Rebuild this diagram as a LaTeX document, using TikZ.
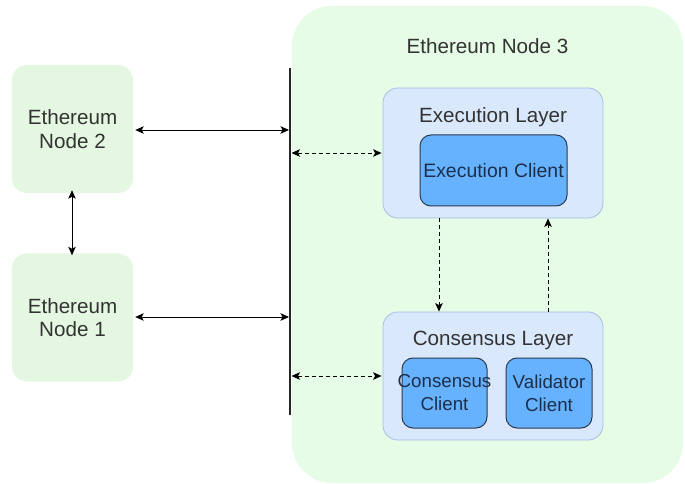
\documentclass[tikz,border=0pt]{standalone}
\usepackage{fontspec}
\setmainfont{Liberation Sans}
\usetikzlibrary{arrows.meta}
\definecolor{nodegreen}{HTML}{E6FCE6}
\definecolor{sidegreen}{HTML}{E4F8E1}
\definecolor{layerfill}{HTML}{DAE8FC}
\definecolor{layerdraw}{HTML}{A4BFE6}
\definecolor{clientfill}{HTML}{66B2FF}
\definecolor{clientdraw}{HTML}{2C3A4E}
\definecolor{txtgray}{HTML}{333333}
\definecolor{txtblue}{HTML}{1C2F4A}
\tikzset{
  lbl/.style={font=\fontsize{20.7}{23.5}\selectfont, text=txtgray, align=center, inner sep=0pt},
  smalllbl/.style={lbl, font=\fontsize{18.8}{23}\selectfont},
  sidebox/.style={lbl, fill=sidegreen, draw=none, rounded corners=15bp, minimum width=121bp, minimum height=128bp},
  bigbox/.style={fill=nodegreen, draw=none, rounded corners=40bp, minimum width=391bp, minimum height=477bp},
  layerbox/.style={fill=layerfill, draw=layerdraw, line width=0.8bp, rounded corners=15bp, minimum width=220bp},
  clientbox/.style={lbl, text=txtblue, fill=clientfill, draw=clientdraw, line width=1bp, rounded corners=11bp},
  link/.style={line width=0.9bp, {Stealth[length=8.5bp,width=7.5bp,inset=2bp]}-{Stealth[length=8.5bp,width=7.5bp,inset=2bp]}},
  dlink/.style={link, dash pattern=on 4bp off 3bp},
  dflow/.style={line width=0.9bp, dash pattern=on 4bp off 3bp, -{Stealth[length=8.5bp,width=7.5bp,inset=2bp]}},
}
\begin{document}
\begin{tikzpicture}[x=1bp,y=-1bp]
\useasboundingbox (0,0) rectangle (685,484);
\node[bigbox] (n3) at (487.5,244.5) {};
\node[lbl] (n3lbl) at (487.5,46) {Ethereum Node 3};
\node[sidebox] (n2) at (72.5,129) {Ethereum\\Node 2};
\node[sidebox] (n1) at (72.5,317.5) {Ethereum\\Node 1};

\node[layerbox, minimum height=130bp] (el) at (493,153) {};
\node[lbl] (ellbl) at (493,117) {Execution Layer};
\node[clientbox, font=\fontsize{19.5}{23}\selectfont, minimum width=147bp, minimum height=71bp] (ec) at (493.5,170.5) {Execution Client};

\node[layerbox, minimum height=128bp] (cl) at (493,376) {};
\node[lbl] (cllbl) at (493,340) {Consensus Layer};
\node[clientbox, minimum width=85bp, minimum height=70bp] (cc) at (444.5,393) {};
\node[smalllbl, text=txtblue] (cctxt) at (444.5,393) {Consensus\\Client};
\node[clientbox, smalllbl, text=txtblue, minimum width=86bp, minimum height=70bp] (vc) at (549,393) {Validator\\Client};

\coordinate (bt) at (290,68);
\coordinate (bb) at (290,415);
\draw[line width=2.2bp, color=black!85] (bt) -- (bb);

\coordinate (b2) at (289,130);
\coordinate (b1) at (289,317);
\coordinate (be) at (291.5,153);
\coordinate (bc) at (291.5,376);
\draw[link] ([xshift=2bp]n2.east |- b2) -- (b2);
\draw[link] ([xshift=2bp]n1.east |- b1) -- (b1);
\draw[link] ([yshift=3bp]n2.south -| 72,0) -- ([yshift=-2bp]n1.north -| 72,0);
\draw[dlink] (be) -- ([xshift=-1bp]el.west |- be);
\draw[dlink] (bc) -- ([xshift=-1bp]cl.west |- bc);
\draw[dflow] (el.south -| 439,0) -- (cl.north -| 439,0);
\draw[dflow] (cl.north -| 548,0) -- (el.south -| 548,0);
\end{tikzpicture}
\end{document}
